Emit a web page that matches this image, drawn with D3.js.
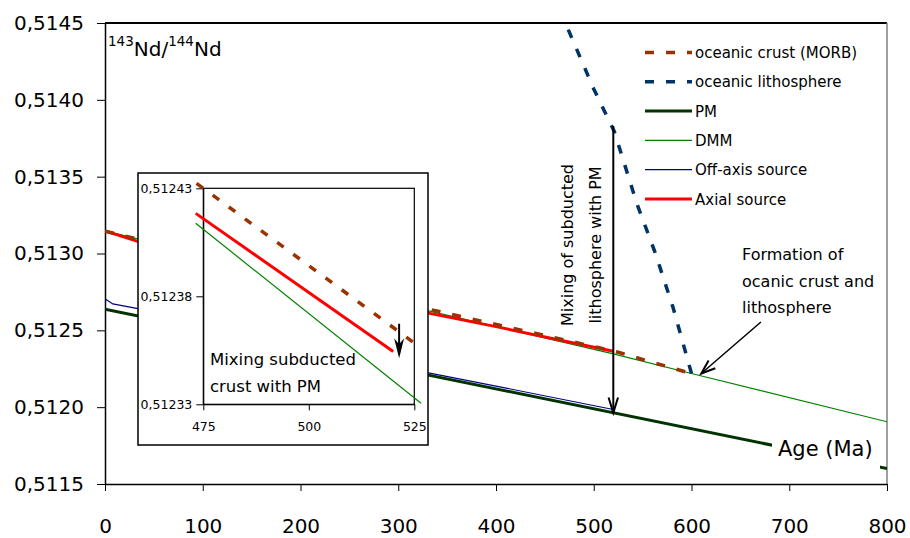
<!DOCTYPE html>
<html><head><meta charset="utf-8">
<script src="https://cdn.jsdelivr.net/npm/d3@7"></script>
<style>
body{margin:0;background:#fff}
svg{display:block;font-family:"DejaVu Sans",sans-serif}
</style>
</head><body><svg id="c" width="910" height="538"></svg>
<script>
// ---------- DATA ----------
const xTicks = [0,100,200,300,400,500,600,700,800];
const yTicks = [0.5115,0.5120,0.5125,0.5130,0.5135,0.5140,0.5145];
const yTickLabels = ["0,5115","0,5120","0,5125","0,5130","0,5135","0,5140","0,5145"];

const pmAge = [0, 800];
const pmRatio = [0.512638, 0.511600];
const dmmAge = [0, 331, 520, 600, 800];
const dmmRatio = [0.513147, 0.512627, 0.512347, 0.512219, 0.511905];
const offAge = [0, 8, 35, 331, 400, 520];
const offRatio = [0.512705, 0.512672, 0.512640, 0.512223, 0.512137, 0.511985];
const axAge = [0, 35, 331, 400, 520];
const axRatio = [0.513147, 0.513076, 0.512612, 0.512524, 0.512364];
const morbAge = [0, 331, 474, 526, 556, 600];
const morbRatio = [0.513145, 0.512638, 0.512432, 0.512356, 0.512299, 0.512219];
const lithAge = [600, 581, 563, 544, 521, 500, 474, 465];
const lithRatio = [0.512219, 0.512651, 0.513002, 0.513327, 0.513794, 0.514071, 0.514455, 0.514590];

const mixArrowAge = 520, mixArrowFrom = 0.51383, mixArrowTo = 0.511963;
const formArrowAge = [671, 610], formArrowRatio = [0.512554, 0.512219];

const legendLabels = ["oceanic crust (MORB)","oceanic lithosphere","PM","DMM","Off-axis source","Axial source"];

// inset
const insetXTicks = [475,500,525];
const insetYTicks = [0.51233,0.51238,0.51243];
const insetYTickLabels = ["0,51233","0,51238","0,51243"];
const inDmmAge = [473.2, 526.6];
const inDmmRatio = [0.5124138, 0.5123305];
const inAxAge = [473.2, 520.0];
const inAxRatio = [0.5124184, 0.5123544];
const inMorbAge = [473.4, 526.6];
const inMorbRatio = [0.5124323, 0.5123561];
const inArrowAge = 521.4, inArrowFrom = 0.5123673, inArrowTo = 0.5123513;

// ---------- STYLES ----------
const C = {pm:"#003300", dmm:"#008000", off:"#000080", ax:"#ff0000", morb:"#993300", lith:"#003366"};
const DASH = "9,12";

const svg = d3.select("#c");
svg.append("rect").attr("width",910).attr("height",538).attr("fill","#fff");

const x = d3.scaleLinear().domain([0,800]).range([105,887]);
const y = d3.scaleLinear().domain([0.5115,0.5145]).range([484,23]);

svg.append("defs").append("clipPath").attr("id","plot")
  .append("rect").attr("x",105).attr("y",23).attr("width",782).attr("height",461);

// frame
svg.append("line").attr("x1",105).attr("x2",887).attr("y1",23).attr("y2",23).attr("stroke","#000").attr("stroke-width",2);
svg.append("line").attr("x1",887).attr("x2",887).attr("y1",23).attr("y2",484).attr("stroke","#808080").attr("stroke-width",1.5);

// axes
const ya = svg.append("g").attr("transform","translate(105,0)")
  .call(d3.axisLeft(y).tickValues(yTicks).tickFormat((d,i)=>yTickLabels[i]).tickSize(8).tickSizeOuter(0).tickPadding(13));
ya.selectAll("text").attr("font-size",20).attr("font-family","DejaVu Sans").attr("fill","#000");
ya.select(".domain").attr("stroke-width",1.5);
const xa = svg.append("g").attr("transform","translate(0,484)")
  .call(d3.axisBottom(x).tickValues(xTicks).tickFormat(d=>String(d)).tickSize(7).tickSizeOuter(0).tickPadding(28));
xa.selectAll("text").attr("font-size",20).attr("font-family","DejaVu Sans").attr("fill","#000");
xa.select(".domain").attr("stroke-width",1.5);

const line = d3.line().x(d=>x(d[0])).y(d=>y(d[1]));
const plot = svg.append("g").attr("clip-path","url(#plot)");
function series(g, ages, vals, color, w, dash, ln){
  g.append("path").attr("d",(ln||line)(d3.zip(ages,vals))).attr("fill","none")
   .attr("stroke",color).attr("stroke-width",w).attr("stroke-dasharray",dash||null);
}
series(plot, pmAge, pmRatio, C.pm, 3);
series(plot, dmmAge, dmmRatio, C.dmm, 1.2);
series(plot, offAge, offRatio, C.off, 1.2);
series(plot, axAge, axRatio, C.ax, 3);
series(plot, morbAge, morbRatio, C.morb, 3.5, DASH);
series(plot, lithAge, lithRatio, C.lith, 3.5, DASH);

// arrows
function arrowHead(g, tx, ty, ang, len, half){
  const a1 = ang + Math.PI - half, a2 = ang + Math.PI + half;
  g.append("path").attr("d",`M${tx+len*Math.cos(a1)},${ty+len*Math.sin(a1)}L${tx},${ty}L${tx+len*Math.cos(a2)},${ty+len*Math.sin(a2)}`)
   .attr("fill","none").attr("stroke","#000").attr("stroke-width",2);
}
{
  const ax0 = x(mixArrowAge), y0 = y(mixArrowFrom), y1 = y(mixArrowTo);
  svg.append("line").attr("x1",ax0).attr("x2",ax0).attr("y1",y0).attr("y2",y1).attr("stroke","#000").attr("stroke-width",2);
  arrowHead(svg, ax0, y1, Math.PI/2, 16, 0.3);
  const fx0 = x(formArrowAge[0]), fy0 = y(formArrowRatio[0]), fx1 = x(formArrowAge[1]), fy1 = y(formArrowRatio[1]);
  svg.append("line").attr("x1",fx0).attr("x2",fx1).attr("y1",fy0).attr("y2",fy1).attr("stroke","#000").attr("stroke-width",1.5);
  arrowHead(svg, fx1, fy1, Math.atan2(fy1-fy0, fx1-fx0), 15, 0.35);
}

// title
const t = svg.append("text").attr("x",108).attr("y",56).attr("font-size",20).attr("fill","#000");
t.append("tspan").attr("font-size",13.5).attr("dy",-10).text("143");
t.append("tspan").attr("dy",10).text("Nd/");
t.append("tspan").attr("font-size",13.5).attr("dy",-10).text("144");
t.append("tspan").attr("dy",10).text("Nd");

// rotated annotation
svg.append("text").attr("transform","translate(573,245) rotate(-90)").attr("text-anchor","middle")
  .attr("font-size",16).text("Mixing of subducted");
svg.append("text").attr("transform","translate(601,245) rotate(-90)").attr("text-anchor","middle")
  .attr("font-size",16).text("lithosphere with PM");

// formation text
["Formation of","ocanic crust and","lithosphere"].forEach((s,i)=>{
  svg.append("text").attr("x",742).attr("y",260+i*26.5).attr("font-size",16).text(s);
});

// legend
const legStyles = [
  {c:C.morb,w:3.5,d:DASH},{c:C.lith,w:3.5,d:DASH},{c:C.pm,w:3,d:null},
  {c:C.dmm,w:1.2,d:null},{c:C.off,w:1.2,d:null},{c:C.ax,w:3,d:null}];
legendLabels.forEach((lab,i)=>{
  const ly = 52.5 + i*29.3;
  svg.append("line").attr("x1",645).attr("x2",692).attr("y1",ly).attr("y2",ly)
    .attr("stroke",legStyles[i].c).attr("stroke-width",legStyles[i].w).attr("stroke-dasharray",legStyles[i].d);
  svg.append("text").attr("x",695).attr("y",ly+5.5).attr("font-size",15).text(lab);
});

// ---------- INSET ----------
const ins = svg.append("g");
ins.append("rect").attr("x",138).attr("y",173).attr("width",290).attr("height",272)
  .attr("fill","#fff").attr("stroke","#000").attr("stroke-width",1.5);
const xi = d3.scaleLinear().domain([475,525]).range([203.3,414.3]);
const yi = d3.scaleLinear().domain([0.51233,0.51243]).range([404.3,188.3]);
ins.append("rect").attr("x",203.3).attr("y",188.3).attr("width",211).attr("height",216)
  .attr("fill","none").attr("stroke","#000").attr("stroke-width",1.2);
const yia = ins.append("g").attr("transform","translate(203.3,0)")
  .call(d3.axisLeft(yi).tickValues(insetYTicks).tickFormat((d,i)=>insetYTickLabels[i]).tickSize(7).tickSizeOuter(0).tickPadding(4));
yia.selectAll("text").attr("font-size",12.5).attr("font-family","DejaVu Sans").attr("fill","#000");
const xia = ins.append("g").attr("transform","translate(0,404.3)")
  .call(d3.axisBottom(xi).tickValues(insetXTicks).tickFormat(d=>String(d)).tickSize(6).tickSizeOuter(0).tickPadding(12));
xia.selectAll("text").attr("font-size",12.5).attr("font-family","DejaVu Sans").attr("fill","#000");
const iline = d3.line().x(d=>xi(d[0])).y(d=>yi(d[1]));
series(ins, inDmmAge, inDmmRatio, C.dmm, 1.2, null, iline);
series(ins, inAxAge, inAxRatio, C.ax, 3, null, iline);
series(ins, inMorbAge, inMorbRatio, C.morb, 3.5, "8,12", iline);
{
  const ax0 = xi(inArrowAge), y0 = yi(inArrowFrom), y1 = yi(inArrowTo);
  ins.append("line").attr("x1",ax0).attr("x2",ax0).attr("y1",y0).attr("y2",y1-4).attr("stroke","#000").attr("stroke-width",2);
  ins.append("path").attr("d",`M${ax0},${y1}L${ax0-5},${y1-20}L${ax0},${y1-14}L${ax0+5},${y1-20}Z`).attr("fill","#000");
}
ins.append("text").attr("x",210).attr("y",365).attr("font-size",16.5).text("Mixing subducted");
ins.append("text").attr("x",210).attr("y",392).attr("font-size",16.5).text("crust with PM");

// Age label with white background
svg.append("rect").attr("x",772).attr("y",432).attr("width",108).attr("height",42).attr("fill","#fff");
svg.append("text").attr("x",778).attr("y",456).attr("font-size",21).text("Age (Ma)");
</script>
</body></html>
